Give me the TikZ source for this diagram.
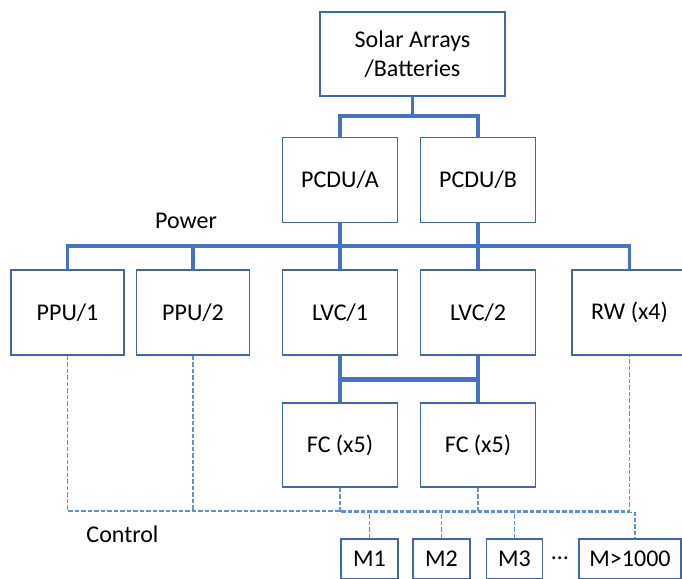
\documentclass[tikz,border=0pt]{standalone}
\usepackage{fontspec}
\setmainfont{Carlito}
\definecolor{BoxClr}{rgb}{0.25,0.40,0.68}
\definecolor{PowerClr}{rgb}{0.27,0.45,0.77}
\definecolor{CtrlClr}{rgb}{0.38,0.56,0.85}

\begin{document}
\begin{tikzpicture}[x=1pt,y=-1pt,
  box/.style={draw=BoxClr,line width=1.2pt,minimum height=85pt,minimum width=115pt,inner sep=0pt,align=center,font=\fontsize{24}{29}\selectfont},
  mbox/.style={box,minimum height=40pt,minimum width=57pt},
  power/.style={draw=PowerClr,line width=3.3pt},
  bar/.style={draw=PowerClr,line width=5.5pt},
  ctrl/.style={draw=CtrlClr,line width=1.1pt,dash pattern=on 4.5pt off 2pt},
  lbl/.style={font=\fontsize{24}{29}\selectfont,inner sep=0pt}]
\useasboundingbox (0,0) rectangle (682,578);

\node[box,minimum width=185pt,minimum height=84pt] (solar) at (412.5,54) {Solar Arrays\\/Batteries};
\node[box] (pcduA) at (340,180) {PCDU/A};
\node[box] (pcduB) at (478,180) {PCDU/B};

\node[box,minimum width=113pt] (ppu1) at (67.5,312.5) {PPU/1};
\node[box,minimum width=113pt] (ppu2) at (193,312.5) {PPU/2};
\node[box] (lvc1) at (340,312.5) {LVC/1};
\node[box] (lvc2) at (478,312.5) {LVC/2};
\node[box] (rw) at (629.5,312.5) {RW (x4)};

\node[box,minimum height=84pt] (fc1) at (340,445) {FC (x5)};
\node[box,minimum height=84pt] (fc2) at (478,445) {FC (x5)};

\node[mbox] (m1) at (369.5,559) {M1};
\node[mbox] (m2) at (441.5,559) {M2};
\node[mbox,minimum width=56pt] (m3) at (514.5,559) {M3};
\node[mbox,minimum width=102pt] (mN) at (630,559) {M>1000};
\node[lbl,anchor=base] (dots) at (560,559) {…};

\node[lbl] (power) at (186,221) {Power};
\node[lbl] (control) at (122.5,534) {Control};

\coordinate (split) at (412.5,116);
\coordinate (bus) at (0,246);
\coordinate (lvcbar) at (0,379.5);
\coordinate (ctrlbus) at (0,511);
\coordinate (mturn) at (635,512.5);

\draw[power] (solar.south) -- (split);
\draw[power] (pcduA.north) |- (split) -| (pcduB.north);
\draw[power] (ppu1.north) |- (rw.north |- bus) -- (rw.north);
\draw[power] (ppu2.north) -- (ppu2.north |- bus);
\draw[power] (pcduA) -- (lvc1);
\draw[power] (pcduB) -- (lvc2);
\draw[power] (lvc1) -- (fc1);
\draw[power] (lvc2) -- (fc2);
\draw[bar] (lvc1.south |- lvcbar) -- (lvc2.south |- lvcbar);

\draw[ctrl] (ppu1.south) |- (rw.south |- ctrlbus) -- (rw.south);
\draw[ctrl] (ppu2.south) -- (ppu2.south |- ctrlbus);
\draw[ctrl] (fc2.south) -- (fc2.south |- ctrlbus);
\draw[ctrl] (fc1.south) |- (mturn) -- (mturn |- mN.north);
\draw[ctrl] (m1.north) -- (m1.north |- mturn);
\draw[ctrl] (m2.north) -- (m2.north |- mturn);
\draw[ctrl] (m3.north) -- (m3.north |- mturn);

\end{tikzpicture}
\end{document}
